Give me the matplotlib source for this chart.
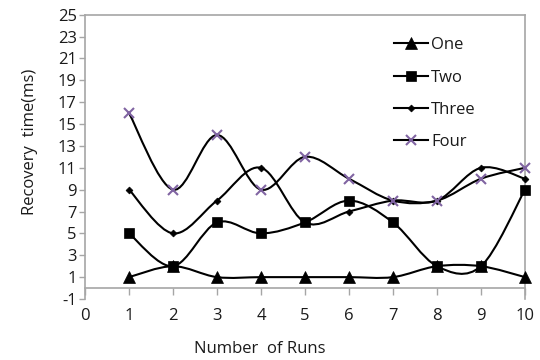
import matplotlib
matplotlib.use("Agg")
import matplotlib.pyplot as plt
from matplotlib.path import Path
from matplotlib.patches import PathPatch
from matplotlib.lines import Line2D
import numpy as np

plt.rcParams['font.family'] = ['Open Sans', 'DejaVu Sans']
plt.rcParams['axes.unicode_minus'] = False

runs = [1, 2, 3, 4, 5, 6, 7, 8, 9, 10]
one = [1, 2, 1, 1, 1, 1, 1, 2, 2, 1]
two = [5, 2, 6, 5, 6, 8, 6, 2, 2, 9]
three = [9, 5, 8, 11, 6, 7, 8, 8, 11, 10]
four = [16, 9, 14, 9, 12, 10, 8, 8, 10, 11]
series_names = ["One", "Two", "Three", "Four"]
yticks = list(range(-1, 26, 2))
xticks = list(range(0, 11))

W, H = 540, 360
fig = plt.figure(figsize=(5.4, 3.6), dpi=100)
ax = fig.add_axes([85 / W, 1 - 299 / H, 440 / W, (299 - 14.7) / H])
ax.set_xlim(0, 10)
ax.set_ylim(-1, 25)

grey = '#A6A6A6'
tcol = '#1a1a1a'
fs = 12


def smooth_path(xs, ys):
    p = np.column_stack([xs, ys]).astype(float)
    n = len(p)
    verts = [p[0]]
    codes = [Path.MOVETO]
    for i in range(n - 1):
        p0 = p[i - 1] if i > 0 else p[i]
        p1 = p[i]
        p2 = p[i + 1]
        p3 = p[i + 2] if i + 2 < n else p[i + 1]
        c1 = p1 + (p2 - p0) / 6.0
        c2 = p2 - (p3 - p1) / 6.0
        verts += [c1, c2, p2]
        codes += [Path.CURVE4] * 3
    return Path(verts, codes)


styles = [
    dict(marker='^', ms=8.5, mfc='black', mec='black', mew=0.5),
    dict(marker='s', ms=7.5, mfc='black', mec='black', mew=0.5),
    dict(marker='D', ms=3.5, mfc='black', mec='black', mew=0.5),
    dict(marker='x', ms=7, mfc='#8064A2', mec='#8064A2', mew=1.5),
]
handles = []
for vals, name, st in zip([one, two, three, four], series_names, styles):
    patch = PathPatch(smooth_path(runs, vals), facecolor='none', edgecolor='black',
                      lw=1.5, transform=ax.transData, zorder=2, clip_on=False)
    ax.add_patch(patch)
    ax.plot(runs, vals, linestyle='none', zorder=3, clip_on=False, **st)
    handles.append(Line2D([], [], color='black', lw=1.5, **st))

for s in ['top', 'right', 'left']:
    ax.spines[s].set_color(grey)
    ax.spines[s].set_linewidth(1.2)
ax.spines['bottom'].set_position(('data', 0))
ax.spines['bottom'].set_color(grey)
ax.spines['bottom'].set_linewidth(1.2)

ax.set_yticks(yticks)
ax.set_xticks(xticks)
ax.tick_params(axis='y', direction='out', length=4, width=1, color=grey, pad=2,
               labelsize=fs, labelcolor=tcol)
ax.tick_params(axis='x', direction='out', length=5, width=1, color=grey, pad=9,
               labelsize=fs, labelcolor=tcol)

fig.text(30 / W, 1 - 142 / H, 'Recovery  time(ms)', rotation=90, ha='center', va='center',
         fontsize=fs, color=tcol)
fig.text(260 / W, 1 - 349 / H, 'Number  of Runs', ha='center', va='center',
         fontsize=fs, color=tcol)

leg = ax.legend(handles, series_names, loc='upper left',
                bbox_to_anchor=(386 / W, 1 - 29 / H), bbox_transform=fig.transFigure,
                frameon=False, borderpad=0, labelspacing=0.98, handlelength=2.0,
                handletextpad=0.2, fontsize=fs)
for t in leg.get_texts():
    t.set_color(tcol)

fig.savefig('out.png', dpi=100)
